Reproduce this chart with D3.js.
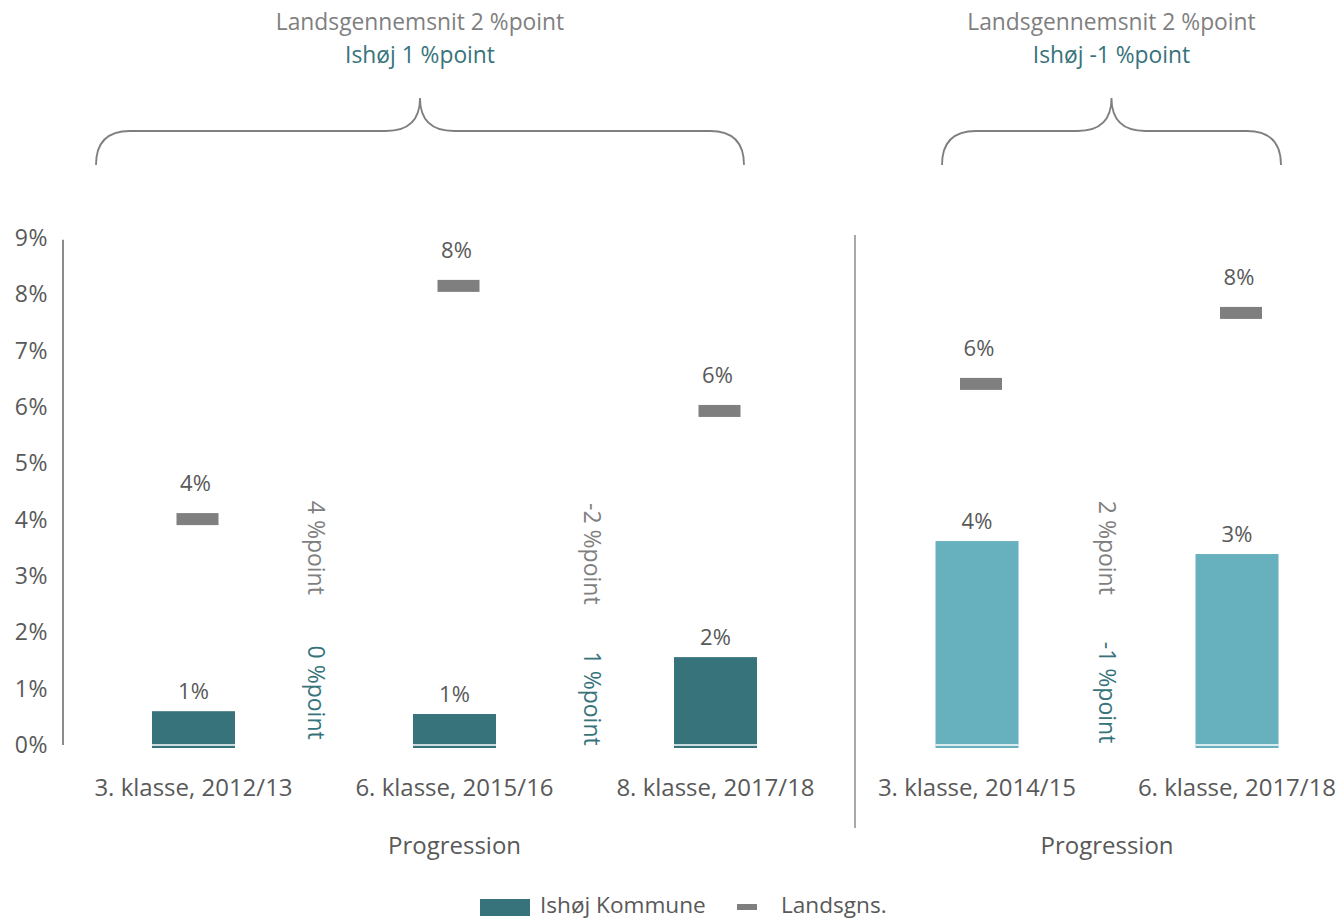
<!DOCTYPE html>
<html>
<head>
<meta charset="utf-8">
<script src="https://cdn.jsdelivr.net/npm/d3@7"></script>
<style>
  body { margin: 0; background: #fff; }
  svg text { font-family: "Open Sans", sans-serif; }
</style>
</head>
<body>
<div class="container"></div>
<script>
// data
const categories1 = ["3. klasse, 2012/13", "6. klasse, 2015/16", "8. klasse, 2017/18"];
const categories2 = ["3. klasse, 2014/15", "6. klasse, 2017/18"];
const ishoj1 = [0.6, 0.55, 1.56];
const ishoj2 = [3.62, 3.39];
const lands1 = [4.01, 8.15, 5.93];
const lands2 = [6.41, 7.67];
const ishojLabels1 = ["1%", "1%", "2%"];
const ishojLabels2 = ["4%", "3%"];
const landsLabels1 = ["4%", "8%", "6%"];
const landsLabels2 = ["6%", "8%"];
const diffLands1 = ["4 %point", "-2 %point"];
const diffIshoj1 = ["0 %point", "1 %point"];
const diffLands2 = ["2 %point"];
const diffIshoj2 = ["-1 %point"];
const titleLands = ["Landsgennemsnit 2 %point", "Landsgennemsnit 2 %point"];
const titleIshoj = ["Ishøj 1 %point", "Ishøj -1 %point"];
const yTicks = [0, 1, 2, 3, 4, 5, 6, 7, 8, 9];

const width = 1340, height = 919;
const darkTeal = "#37737b", lightTeal = "#67b0bd", grey = "#7f7f7f",
      textGrey = "#595959", tealText = "#37737b";

const svg = d3.select('.container').append('svg')
    .attr('width', width)
    .attr('height', height);

const y = d3.scaleLinear().domain([0, 9]).range([745, 238]);

// y axis (labels + line only)
svg.append('line')
    .attr('x1', 63).attr('x2', 63)
    .attr('y1', y(8.97)).attr('y2', y(0))
    .attr('stroke', '#8c8c8c').attr('stroke-width', 2);

svg.append('g').selectAll('text').data(yTicks).enter().append('text')
    .attr('x', 48)
    .attr('y', d => y(d))
    .attr('dy', '0.35em')
    .attr('text-anchor', 'end')
    .attr('font-size', '23px')
    .attr('letter-spacing', '0.5px')
    .attr('fill', textGrey)
    .text(d => d + '%');

// separator between panels
svg.append('line')
    .attr('x1', 855).attr('x2', 855)
    .attr('y1', 235).attr('y2', 828)
    .attr('stroke', '#8c8c8c').attr('stroke-width', 1.5);

const panels = [
    {cats: categories1, ishoj: ishoj1, lands: lands1, il: ishojLabels1, ll: landsLabels1,
     dl: diffLands1, di: diffIshoj1, range: [63, 846], color: darkTeal,
     brace: [96, 744], dx: [-8, 7], dy: [0, 6]},
    {cats: categories2, ishoj: ishoj2, lands: lands2, il: ishojLabels2, ll: landsLabels2,
     dl: diffLands2, di: diffIshoj2, range: [847, 1367], color: lightTeal,
     brace: [942, 1281], dx: [0], dy: [0]}
];

panels.forEach((p, pi) => {
    const x = d3.scaleBand().domain(p.cats).range(p.range);
    const bw = 83;
    const cx = d => x(d) + x.bandwidth() / 2;
    const g = svg.append('g');

    // bars
    g.selectAll('rect.bar').data(p.cats).enter().append('rect')
        .attr('class', 'bar')
        .attr('x', d => cx(d) - bw / 2)
        .attr('width', bw)
        .attr('y', (d, i) => y(p.ishoj[i]))
        .attr('height', (d, i) => y(0) + 3 - y(p.ishoj[i]))
        .attr('fill', p.color);
    // thin white gap near the base
    g.selectAll('line.gap').data(p.cats).enter().append('line')
        .attr('x1', d => cx(d) - bw / 2).attr('x2', d => cx(d) + bw / 2)
        .attr('y1', y(0)).attr('y2', y(0))
        .attr('stroke', '#fff').attr('stroke-width', 1.5);

    g.selectAll('text.il').data(p.cats).enter().append('text')
        .attr('x', d => cx(d))
        .attr('y', (d, i) => y(p.ishoj[i]) - 12)
        .attr('text-anchor', 'middle')
        .attr('font-size', '22px')
        .attr('fill', textGrey)
        .text((d, i) => p.il[i]);

    // national average markers
    g.selectAll('rect.mk').data(p.cats).enter().append('rect')
        .attr('x', d => cx(d) + 4 - 21)
        .attr('width', 42)
        .attr('y', (d, i) => y(p.lands[i]) - 6)
        .attr('height', 12)
        .attr('fill', grey);

    g.selectAll('text.ll').data(p.cats).enter().append('text')
        .attr('x', d => cx(d) + 2)
        .attr('y', (d, i) => y(p.lands[i]) - 28)
        .attr('text-anchor', 'middle')
        .attr('font-size', '22px')
        .attr('fill', textGrey)
        .text((d, i) => p.ll[i]);

    // category labels
    g.selectAll('text.cat').data(p.cats).enter().append('text')
        .attr('x', d => cx(d))
        .attr('y', 796)
        .attr('text-anchor', 'middle')
        .attr('font-size', '24px')
        .attr('fill', textGrey)
        .text(d => d);

    const groupCenter = (cx(p.cats[0]) + cx(p.cats[p.cats.length - 1])) / 2;
    g.append('text')
        .attr('x', groupCenter)
        .attr('y', 854)
        .attr('text-anchor', 'middle')
        .attr('font-size', '24px')
        .attr('fill', textGrey)
        .text('Progression');

    // rotated difference labels between categories
    p.dl.forEach((t, i) => {
        const mx = (cx(p.cats[i]) + cx(p.cats[i + 1])) / 2 + p.dx[i];
        g.append('text')
            .attr('transform', `translate(${mx},${y(3.5) + p.dy[i]}) rotate(90)`)
            .attr('text-anchor', 'middle')
            .attr('dy', '0.35em')
            .attr('font-size', '23px')
            .attr('fill', grey)
            .text(t);
        g.append('text')
            .attr('transform', `translate(${mx},${y(0.93) + p.dy[i]}) rotate(90)`)
            .attr('text-anchor', 'middle')
            .attr('dy', '0.35em')
            .attr('font-size', '23px')
            .attr('fill', tealText)
            .text(p.di[i]);
    });

    // brace + titles
    const [bx0, bx1] = p.brace;
    const bm = (bx0 + bx1) / 2;
    const r = 34;
    const path = d3.path();
    path.moveTo(bx0, 165);
    path.quadraticCurveTo(bx0, 131, bx0 + r, 131);
    path.lineTo(bm - r, 131);
    path.quadraticCurveTo(bm, 131, bm, 98);
    path.quadraticCurveTo(bm, 131, bm + r, 131);
    path.lineTo(bx1 - r, 131);
    path.quadraticCurveTo(bx1, 131, bx1, 165);
    g.append('path')
        .attr('d', path.toString())
        .attr('fill', 'none')
        .attr('stroke', grey)
        .attr('stroke-width', 1.8);

    g.append('text')
        .attr('x', bm)
        .attr('y', 30)
        .attr('text-anchor', 'middle')
        .attr('font-size', '22.8px')
        .attr('fill', grey)
        .text(titleLands[pi]);
    g.append('text')
        .attr('x', bm)
        .attr('y', 63)
        .attr('text-anchor', 'middle')
        .attr('font-size', '22.8px')
        .attr('fill', tealText)
        .text(titleIshoj[pi]);
});

// legend
const legend = svg.append('g');
legend.append('rect')
    .attr('x', 480).attr('y', 899).attr('width', 50).attr('height', 17)
    .attr('fill', darkTeal);
legend.append('text')
    .attr('x', 540).attr('y', 913)
    .attr('font-size', '22.6px').attr('fill', textGrey)
    .text('Ishøj Kommune');
legend.append('rect')
    .attr('x', 737).attr('y', 904).attr('width', 20).attr('height', 6)
    .attr('fill', grey);
legend.append('text')
    .attr('x', 781).attr('y', 913)
    .attr('font-size', '22.6px').attr('fill', textGrey)
    .text('Landsgns.');
</script>
</body>
</html>
